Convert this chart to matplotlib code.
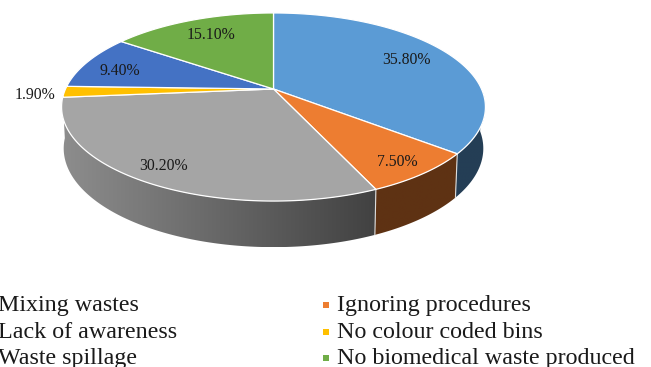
import numpy as np
import matplotlib
matplotlib.use("Agg")
import matplotlib.pyplot as plt
from matplotlib.patches import Polygon

categories = ["Mixing wastes", "Ignoring procedures", "Lack of awareness",
              "No colour coded bins", "Waste spillage", "No biomedical waste produced"]
values = [35.8, 7.5, 30.2, 1.9, 9.4, 15.1]
colors = ["#5B9BD5", "#ED7D31", "#A5A5A5", "#FFC000", "#4472C4", "#70AD47"]
labels = ["35.80%", "7.50%", "30.20%", "1.90%", "9.40%", "15.10%"]
label_pos = [(406, 60), (397, 162), (163, 166), (35, 95), (120, 71), (211, 35)]

plt.rcParams["font.family"] = ["Liberation Serif", "DejaVu Serif"]

# perspective of the tilted disc, in image pixels
cx, cy = 273.5, 89
rx, ry, persp = 208, 90.6, 0.1915
depth = 40.5

def rim(theta):
    s = np.sin(theta)
    d = 1 + persp * s
    return cx + rx * np.cos(theta) / d, cy - ry * s / d

def low_rim(theta):
    x, y = rim(theta)
    return cx + (x - cx) * 0.99, cy + (y - cy) * 1.05 + depth

def wall_shade(x):
    # only the left part of the side is lit
    return np.clip(0.85 - (x - 65) / 308 * 0.45, 0.4, 0.85)

fig = plt.figure(figsize=(6.51, 3.67), dpi=100)
ax = fig.add_axes([0, 0, 1, 1])
ax.axis("off")

total = sum(values)
edges = np.pi / 2 - 2 * np.pi * np.cumsum([0] + values) / total

# side wall first, a gradient image clipped to each slice
for i in range(len(values)):
    t = np.linspace(edges[i], edges[i + 1], 120)
    t = t[np.sin(t) < 0.0]
    if len(t) < 2 or np.sin(t).mean() > -0.05:
        continue
    x1, y1 = rim(t)
    x2, y2 = low_rim(t)
    px = np.r_[x1, x2[::-1]]
    py = np.r_[y1, y2[::-1]]
    xs = np.linspace(px.min(), px.max(), 200)
    base = np.array(matplotlib.colors.to_rgb(colors[i]))
    grad = base[None, None, :] * wall_shade(xs)[None, :, None]
    poly = Polygon(np.c_[px, py], closed=True, transform=ax.transData, fc="none", ec="none")
    ax.add_patch(poly)
    im = ax.imshow(grad, extent=(px.min(), px.max(), py.max(), py.min()), aspect="auto",
                   interpolation="bilinear", zorder=1)
    im.set_clip_path(poly)

# white seams where slices meet on the wall
for e in edges[:-1]:
    if np.sin(e) < -0.2:
        x1, y1 = rim(e)
        x2, y2 = low_rim(e)
        ax.plot([x1, x2], [y1, y2], color="#dddddd", lw=0.8, zorder=2)

# top face
for i in range(len(values)):
    t = np.linspace(edges[i], edges[i + 1], 120)
    x, y = rim(t)
    ax.fill(np.r_[cx, x], np.r_[cy, y], facecolor=colors[i], edgecolor="white", lw=0.9,
            joinstyle="round", zorder=3)

for txt, (x, y) in zip(labels, label_pos):
    ax.text(x, y, txt, fontsize=11.3, color="#1a1a1a", ha="center", va="center", zorder=4)

# legend, the left column runs off the edge of the picture
col_x = [-2, 337]
row_y = [311, 338, 364]
for i, name in enumerate(categories):
    tx = col_x[i % 2]
    ty = row_y[i // 2]
    ax.text(tx, ty, name, fontsize=17.3, color="#1a1a1a", ha="left", va="baseline", zorder=4)
    ax.scatter(tx - 11, ty - 6.5, marker="s", s=20, color=colors[i], linewidths=0, zorder=4)

ax.set_xlim(0, 651)
ax.set_ylim(367, 0)
fig.savefig("out.png", dpi=100)
